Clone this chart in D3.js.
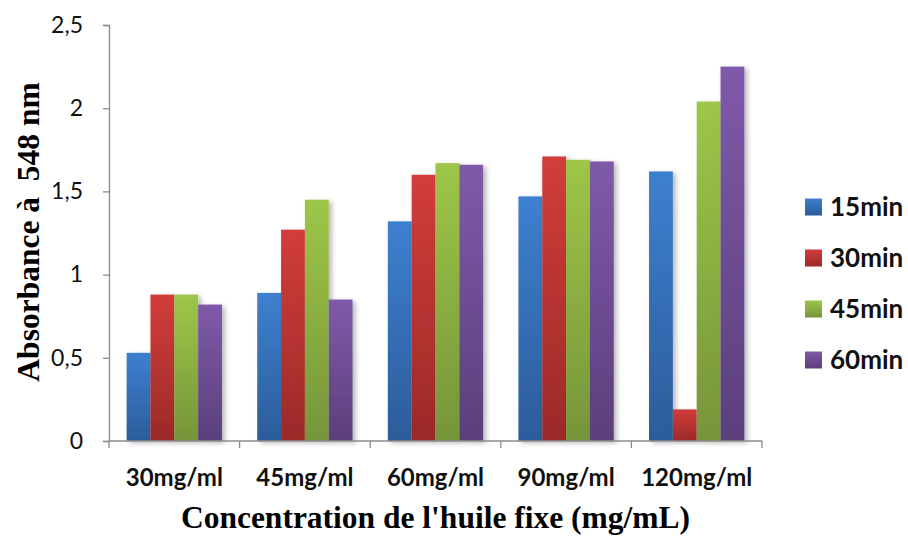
<!DOCTYPE html>
<html>
<head>
<meta charset="utf-8">
<script src="https://cdn.jsdelivr.net/npm/d3@7"></script>
<style>
  html, body { margin: 0; padding: 0; background: #fff; }
  svg { display: block; }
</style>
</head>
<body>
<svg id="chart" width="908" height="536"></svg>
<script>
// Absorbance at 548 nm for each oil concentration and incubation time
const categories = ["30mg/ml", "45mg/ml", "60mg/ml", "90mg/ml", "120mg/ml"];
const seriesNames = ["15min", "30min", "45min", "60min"];
const values15 = [0.53, 0.89, 1.32, 1.47, 1.62];
const values30 = [0.88, 1.27, 1.60, 1.71, 0.19];
const values45 = [0.88, 1.45, 1.67, 1.69, 2.04];
const values60 = [0.82, 0.85, 1.66, 1.68, 2.25];
const yTicks = [0, 0.5, 1, 1.5, 2, 2.5];
const colorsTop = ["#3d80d0", "#d23d3a", "#9ec648", "#7f5aa9"];
const colorsBottom = ["#2c5c9a", "#9b2a28", "#76953a", "#5b3f7c"];

const seriesValues = [values15, values30, values45, values60];

const svg = d3.select("#chart");
const margin = { left: 109, right: 146, top: 25, bottom: 95 };
const W = 908, H = 536;
const plotW = W - margin.left - margin.right;
const plotH = H - margin.top - margin.bottom;
const sansFont = "Lato, 'Open Sans', sans-serif";
const serifFont = "'Liberation Serif', 'Times New Roman', serif";

const defs = svg.append("defs");
seriesNames.forEach((s, i) => {
  const g = defs.append("linearGradient")
    .attr("id", "grad" + i).attr("x1", 0).attr("y1", 0).attr("x2", 0).attr("y2", 1);
  g.append("stop").attr("offset", "0%").attr("stop-color", colorsTop[i]);
  g.append("stop").attr("offset", "100%").attr("stop-color", colorsBottom[i]);
});
const shadow = defs.append("filter").attr("id", "shadow")
  .attr("x", "-20%").attr("y", "-5%").attr("width", "150%").attr("height", "115%");
shadow.append("feDropShadow").attr("dx", 3).attr("dy", 2).attr("stdDeviation", 2.5)
  .attr("flood-color", "#000").attr("flood-opacity", 0.28);

const x0 = d3.scaleBand().domain(categories).range([0, plotW]).paddingInner(0).paddingOuter(0);
const groupInset = 0.135;
const x1 = d3.scaleBand().domain(seriesNames)
  .range([x0.bandwidth() * groupInset, x0.bandwidth() * (1 - groupInset)]).padding(0);
const y = d3.scaleLinear().domain([0, 2.5]).range([plotH, 0]);

const g = svg.append("g").attr("transform", `translate(${margin.left},${margin.top})`);

// bars
const groups = g.selectAll("g.cat").data(categories).join("g")
  .attr("class", "cat").attr("transform", d => `translate(${x0(d)},0)`);
groups.each(function (cat, ci) {
  d3.select(this).selectAll("rect")
    .data(seriesNames.map((s, si) => ({ s, si, v: seriesValues[si][ci] })))
    .join("rect")
    .attr("x", d => x1(d.s))
    .attr("width", x1.bandwidth())
    .attr("y", d => y(d.v))
    .attr("height", d => plotH - y(d.v))
    .attr("fill", d => `url(#grad${d.si})`)
    .attr("filter", "url(#shadow)");
});

// y axis
const yAxis = d3.axisLeft(y).tickValues(yTicks).tickSize(6).tickPadding(20)
  .tickFormat(d => d3.format("~g")(d).replace(".", ","));
const ya = g.append("g").call(yAxis);
ya.select(".domain").attr("stroke", "#8c8c8c").attr("stroke-width", 1.3);
ya.selectAll(".tick line").attr("stroke", "#8c8c8c").attr("stroke-width", 1.3);
ya.selectAll(".tick text").attr("font-family", sansFont)
  .attr("font-size", 23).attr("fill", "#111");

// x axis with ticks on band boundaries
const xa = g.append("g").attr("transform", `translate(0,${plotH})`);
xa.append("line").attr("x1", 0).attr("x2", plotW).attr("y1", 0).attr("y2", 0)
  .attr("stroke", "#8c8c8c").attr("stroke-width", 1.3);
const boundaries = categories.map(c => x0(c)).concat([plotW]);
xa.selectAll("line.tk").data(boundaries).join("line").attr("class", "tk")
  .attr("x1", d => d).attr("x2", d => d).attr("y1", 0).attr("y2", 7)
  .attr("stroke", "#8c8c8c").attr("stroke-width", 1.3);
xa.selectAll("text").data(categories).join("text")
  .attr("x", d => x0(d) + x0.bandwidth() / 2).attr("y", 45)
  .attr("text-anchor", "middle")
  .attr("font-family", sansFont)
  .attr("font-weight", "bold").attr("font-size", 24).attr("fill", "#111")
  .text(d => d);

// axis titles
svg.append("text")
  .attr("x", margin.left + plotW / 2).attr("y", 528)
  .attr("text-anchor", "middle")
  .attr("font-family", serifFont)
  .attr("font-weight", "bold").attr("font-size", 31.5).attr("fill", "#000")
  .text("Concentration de l'huile fixe (mg/mL)");
svg.append("text")
  .attr("transform", `translate(39,232) rotate(-90)`)
  .attr("text-anchor", "middle")
  .attr("font-family", serifFont)
  .attr("font-weight", "bold").attr("font-size", 31.5).attr("fill", "#000")
  .attr("xml:space", "preserve")
  .text("Absorbance à  548 nm");

// legend
const legend = svg.append("g").attr("transform", "translate(805,207)");
const li = legend.selectAll("g").data(seriesNames).join("g")
  .attr("transform", (d, i) => `translate(0,${i * 51})`);
li.append("rect").attr("x", 0).attr("y", -8.5).attr("width", 17).attr("height", 17)
  .attr("fill", (d, i) => `url(#grad${i})`);
li.append("text").attr("x", 25).attr("y", 0).attr("dy", "0.36em")
  .attr("font-family", sansFont)
  .attr("font-weight", "bold").attr("font-size", 26).attr("fill", "#111")
  .text(d => d);
</script>
</body>
</html>
